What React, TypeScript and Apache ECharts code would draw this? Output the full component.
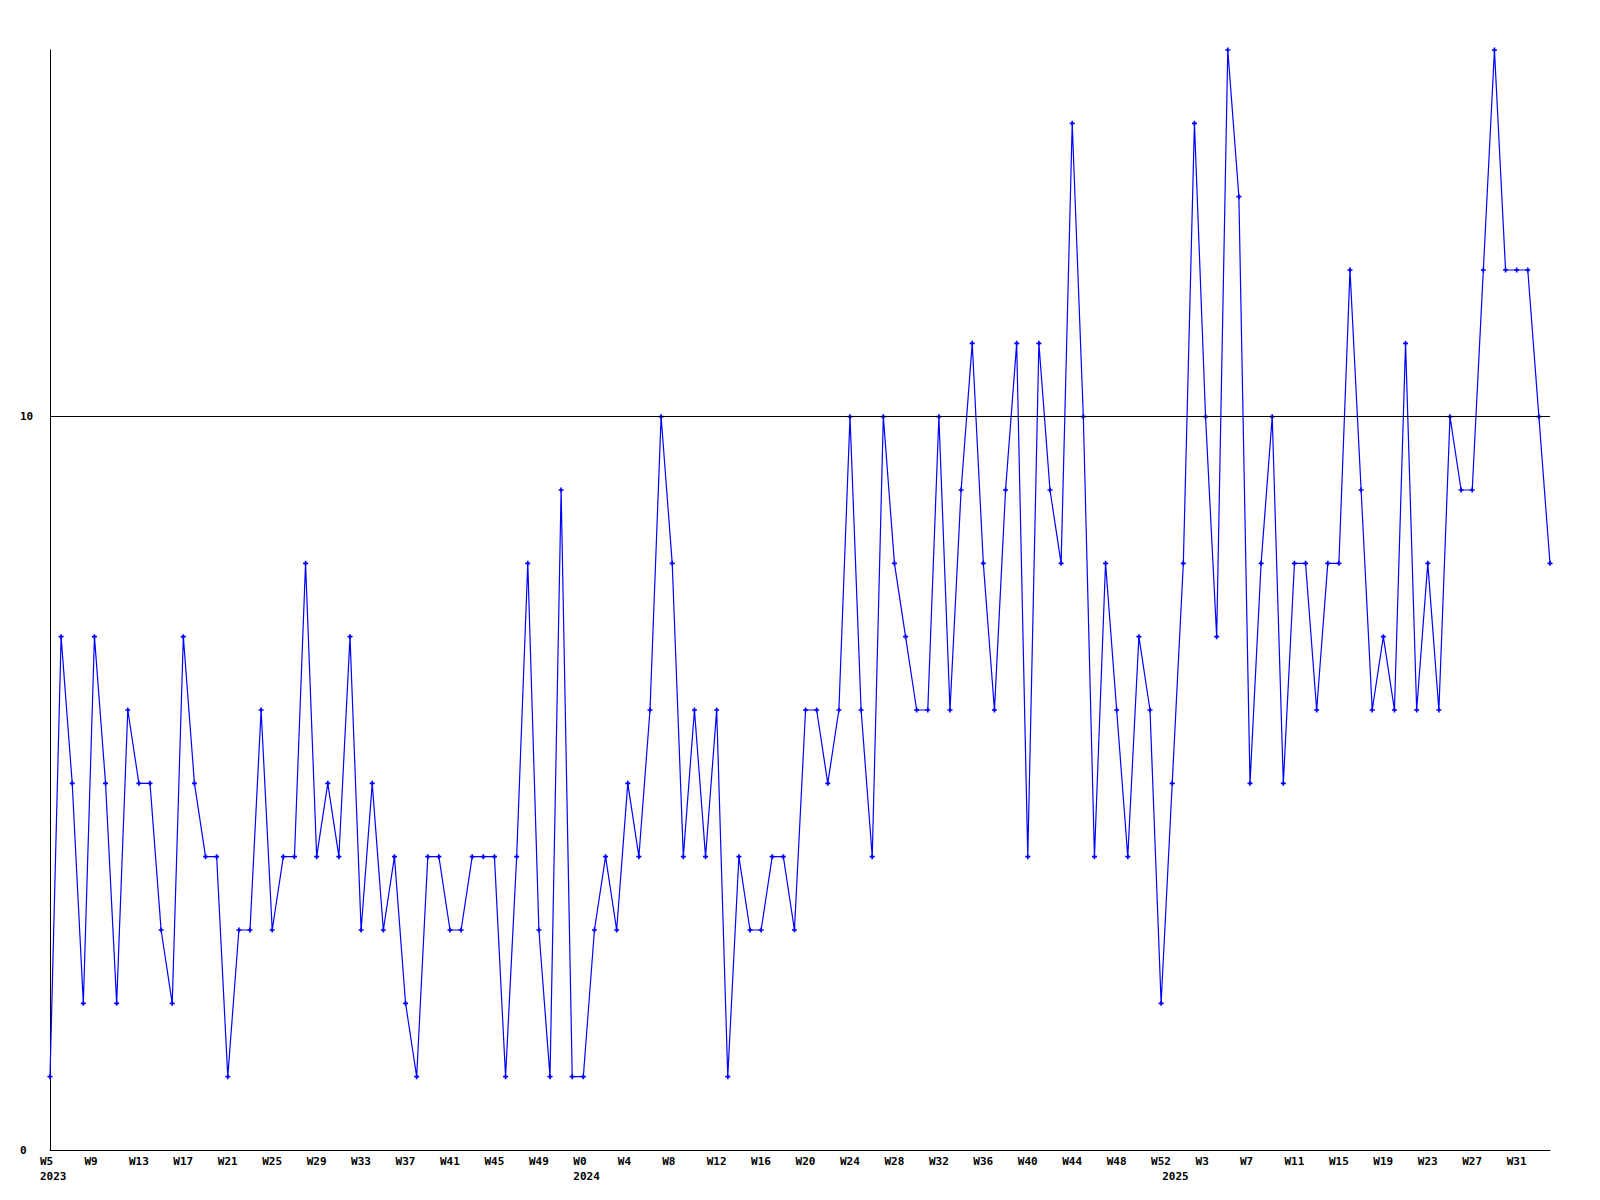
import React, { useEffect, useRef } from "react";
import * as echarts from "echarts";

// Week ranges per year (category axis labels)
const yearSpans = [
  { year: 2023, first: 5, last: 52 },
  { year: 2024, first: 0, last: 52 },
  { year: 2025, first: 0, last: 34 },
];

// Weekly values
const values2023 = [
  1, 7, 5, 2, 7, 5, 2, 6, 5, 5,
  3, 2, 7, 5, 4, 4, 1, 3, 3, 6,
  3, 4, 4, 8, 4, 5, 4, 7, 3, 5,
  3, 4, 2, 1, 4, 4, 3, 3, 4, 4,
  4, 1, 4, 8, 3, 1, 9, 1,
];
const values2024 = [
  1, 3, 4, 3, 5, 4, 6, 10, 8, 4,
  6, 4, 6, 1, 4, 3, 3, 4, 4, 3,
  6, 6, 5, 6, 10, 6, 4, 10, 8, 7,
  6, 6, 10, 6, 9, 11, 8, 6, 9, 11,
  4, 11, 9, 8, 14, 10, 4, 8, 6, 4,
  7, 6, 2,
];
const values2025 = [
  5, 8, 14, 10, 7, 15, 13, 5, 8, 10,
  5, 8, 8, 6, 8, 8, 12, 9, 6, 7,
  6, 11, 6, 8, 6, 10, 9, 9, 12, 15,
  12, 12, 12, 10, 8,
];

const yLabelValues = [0, 10];
const referenceValue = 10;
const weekLabelStep = 4;

const weekLabels: string[] = [];
const yearLabels: string[] = [];
yearSpans.forEach((s) => {
  for (let w = s.first; w <= s.last; w++) {
    weekLabels.push("W" + w);
    yearLabels.push(w === s.first ? String(s.year) : "");
  }
});
const allValues = [...values2023, ...values2024, ...values2025];

const FONT = "'DejaVu Sans Mono', 'Liberation Mono', monospace";

export default function App() {
  const ref = useRef<HTMLDivElement>(null);
  useEffect(() => {
    if (!ref.current) return;
    const chart = echarts.init(ref.current, null, { renderer: "svg" });
    chart.setOption({
      animation: false,
      backgroundColor: "#ffffff",
      grid: { left: 50, right: 50, top: 50, bottom: 50, containLabel: false },
      xAxis: {
        type: "category",
        boundaryGap: false,
        data: weekLabels,
        axisLine: { show: true, lineStyle: { color: "#000", width: 1 } },
        axisTick: { show: false },
        splitLine: { show: false },
        axisLabel: {
          interval: (i: number) => i % weekLabelStep === 0 || yearLabels[i] !== "",
          hideOverlap: false,
          showMinLabel: true,
          align: "left",
          padding: [0, 0, 0, -10],
          margin: 4,
          lineHeight: 15,
          color: "#000",
          fontFamily: FONT,
          fontWeight: "bold",
          fontSize: 11,
          formatter: (v: string, i: number) => {
            const wk = i % weekLabelStep === 0 ? v : " ";
            return yearLabels[i] ? wk + "\n" + yearLabels[i] : wk;
          },
        },
      },
      yAxis: {
        type: "value",
        min: 0,
        max: 15,
        interval: 5,
        axisLine: { show: true, lineStyle: { color: "#000", width: 1 } },
        axisTick: { show: false },
        splitLine: { show: false },
        axisLabel: {
          align: "left",
          margin: 30,
          color: "#000",
          fontFamily: FONT,
          fontWeight: "bold",
          fontSize: 11,
          formatter: (v: number) => (yLabelValues.includes(v) ? String(v) : ""),
        },
      },
      series: [
        {
          type: "line",
          data: allValues,
          symbol: "path://M2,0L4,0L4,2L6,2L6,4L4,4L4,6L2,6L2,4L0,4L0,2L2,2Z",
          symbolSize: 5,
          showAllSymbol: true,
          lineStyle: { color: "#0000ff", width: 1.2 },
          itemStyle: { color: "#0000ff" },
          markLine: {
            silent: true,
            symbol: ["none", "none"],
            label: { show: false },
            lineStyle: { color: "#000", width: 1, type: "solid" },
            data: [{ yAxis: referenceValue }],
          },
        },
      ],
    });
    return () => chart.dispose();
  }, []);
  return (
    <div
      ref={ref}
      style={{ position: "absolute", left: 0, top: 0, width: 1600, height: 1200 }}
    />
  );
}
